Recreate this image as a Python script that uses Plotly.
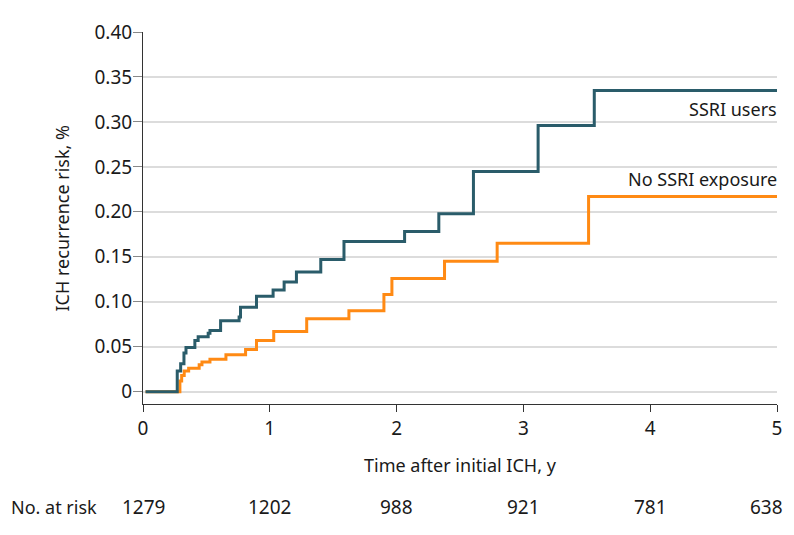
import plotly.graph_objects as go

# SSRI users (step function: time in years, cumulative risk)
ssri_time = [0.02, 0.270, 0.297, 0.323, 0.339, 0.409, 0.435, 0.514, 0.528, 0.612,
             0.758, 0.769, 0.895, 1.026, 1.113, 1.210, 1.402, 1.585, 2.063, 2.333,
             2.606, 3.116, 3.559, 5.0]
ssri_risk = [0.0, 0.023, 0.031, 0.043, 0.049, 0.057, 0.061, 0.065, 0.068, 0.079,
             0.083, 0.094, 0.106, 0.113, 0.122, 0.133, 0.147, 0.167, 0.178, 0.198,
             0.245, 0.296, 0.335, 0.335]

# No SSRI exposure
nossri_time = [0.02, 0.291, 0.305, 0.325, 0.360, 0.443, 0.465, 0.528, 0.654, 0.809,
               0.895, 1.031, 1.291, 1.624, 1.900, 1.963, 2.378, 2.793, 3.514, 5.0]
nossri_risk = [0.0, 0.012, 0.018, 0.023, 0.026, 0.030, 0.033, 0.036, 0.041, 0.047,
               0.057, 0.067, 0.081, 0.090, 0.108, 0.126, 0.145, 0.165, 0.217, 0.217]

x_ticks = [0, 1, 2, 3, 4, 5]
y_tickvals = [0, 0.05, 0.10, 0.15, 0.20, 0.25, 0.30, 0.35, 0.40]
y_ticktext = ["0", "0.05", "0.10", "0.15", "0.20", "0.25", "0.30", "0.35", "0.40"]
at_risk_times = [0, 1, 2, 3, 4, 5]
at_risk_counts = [1279, 1202, 988, 921, 781, 638]

TEAL = "#2a5c6a"
ORANGE = "#ff8a14"
FONT = "Noto Sans"
FS_TEXT = 18
FS_NUM = 19
TXT = "#1a1a1a"

fig = go.Figure()
fig.add_trace(go.Scatter(x=nossri_time, y=nossri_risk, mode="lines",
                         line=dict(shape="hv", color=ORANGE, width=3),
                         name="No SSRI exposure", showlegend=False, hoverinfo="skip"))
fig.add_trace(go.Scatter(x=ssri_time, y=ssri_risk, mode="lines",
                         line=dict(shape="hv", color=TEAL, width=3),
                         name="SSRI users", showlegend=False, hoverinfo="skip"))

annotations = [
    dict(x=5, y=0.335, xref="x", yref="y", text="SSRI users", showarrow=False,
         xanchor="right", yanchor="top", yshift=-5, xshift=2,
         font=dict(size=FS_TEXT, color=TXT)),
    dict(x=5, y=0.217, xref="x", yref="y", text="No SSRI exposure", showarrow=False,
         xanchor="right", yanchor="bottom", yshift=4, xshift=2,
         font=dict(size=FS_TEXT, color=TXT)),
    dict(x=0.5, y=-0.164, xref="paper", yref="paper", text="Time after initial ICH, y",
         showarrow=False, xanchor="center", yanchor="middle",
         font=dict(size=FS_TEXT, color=TXT)),
    dict(x=-0.127, y=0.5, xref="paper", yref="paper", text="ICH recurrence risk, %",
         showarrow=False, textangle=-90, xanchor="center", yanchor="middle",
         font=dict(size=FS_TEXT, color=TXT)),
    dict(x=-0.2115, y=-0.277, xref="paper", yref="paper", text="No. at risk",
         showarrow=False, xanchor="left", yanchor="middle",
         font=dict(size=FS_TEXT, color=TXT)),
]
for t, c in zip(at_risk_times, at_risk_counts):
    last = (t == at_risk_times[-1])
    annotations.append(dict(x=t, y=-0.277, xref="x", yref="paper", text=str(c),
                            showarrow=False,
                            xanchor=("right" if last else "center"), yanchor="middle",
                            xshift=(8 if last else 0),
                            font=dict(size=FS_NUM, color=TXT)))

# page body has an 8px margin: the figure is sized/positioned to compensate
# (height kept small enough that no scrollbar appears)
fig.update_layout(
    width=786, height=519,
    margin=dict(l=135, r=17, t=24, b=123),
    paper_bgcolor="white", plot_bgcolor="white",
    font=dict(family=FONT, size=FS_NUM, color=TXT),
    annotations=annotations,
    xaxis=dict(range=[0, 5], tickvals=x_ticks, showgrid=False, zeroline=False,
               showline=True, linecolor="#333", linewidth=1,
               ticks="outside", ticklen=7, tickcolor="#333", tickwidth=1,
               tickfont=dict(size=FS_NUM, color=TXT)),
    yaxis=dict(range=[-0.0137, 0.40], tickvals=y_tickvals, ticktext=y_ticktext,
               showgrid=True, gridcolor="#dcdcdc", gridwidth=2, zeroline=False,
               showline=True, linecolor="#333", linewidth=1,
               ticks="outside", ticklen=9, tickcolor="#888", tickwidth=1,
               ticklabelstandoff=-3,
               tickfont=dict(size=FS_NUM, color=TXT)),
)

fig.write_html("out.html")
